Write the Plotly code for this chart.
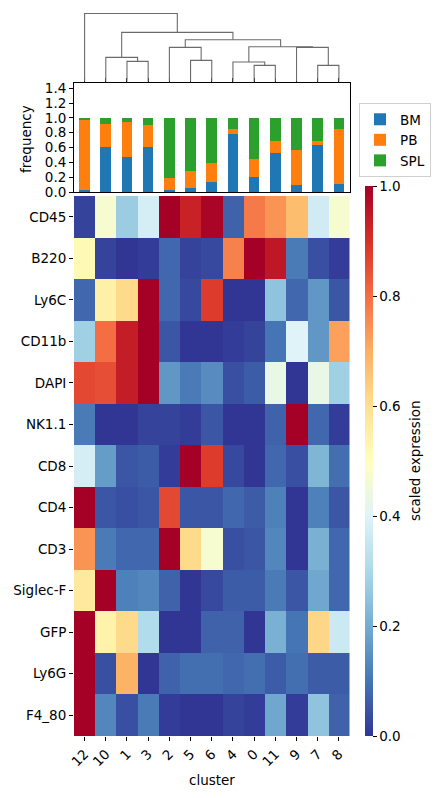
import plotly.graph_objects as go

# ---------------- data ----------------
clusters = ["12", "10", "1", "3", "2", "5", "6", "4", "0", "11", "9", "7", "8"]
markers = ["CD45", "B220", "Ly6C", "CD11b", "DAPI", "NK1.1", "CD8", "CD4",
           "CD3", "Siglec-F", "GFP", "Ly6G", "F4_80"]

# tissue frequency per cluster
freq_bm = [0.03, 0.61, 0.47, 0.61, 0.03, 0.055, 0.135, 0.785, 0.20, 0.527, 0.095, 0.635, 0.11]
freq_pb = [0.94, 0.31, 0.48, 0.295, 0.16, 0.23, 0.255, 0.065, 0.245, 0.163, 0.475, 0.055, 0.74]
freq_spl = [0.03, 0.08, 0.05, 0.095, 0.81, 0.715, 0.61, 0.15, 0.555, 0.31, 0.43, 0.31, 0.15]

# scaled expression per marker (columns follow `clusters`)
cd45 = [0.02, 0.47, 0.27, 0.38, 1.00, 0.93, 0.99, 0.07, 0.78, 0.74, 0.67, 0.37, 0.47]
b220 = [0.52, 0.02, 0.00, 0.01, 0.08, 0.02, 0.03, 0.77, 1.00, 0.95, 0.11, 0.04, 0.01]
ly6c = [0.08, 0.55, 0.61, 1.00, 0.08, 0.03, 0.88, 0.00, 0.00, 0.25, 0.08, 0.16, 0.05]
cd11b = [0.28, 0.80, 0.94, 1.00, 0.05, 0.00, 0.00, 0.01, 0.02, 0.10, 0.40, 0.16, 0.72]
dapi = [0.86, 0.85, 0.94, 1.00, 0.16, 0.11, 0.14, 0.04, 0.06, 0.43, 0.00, 0.43, 0.28]
nk11 = [0.11, 0.00, 0.00, 0.02, 0.02, 0.01, 0.05, 0.00, 0.00, 0.07, 1.00, 0.08, 0.01]
cd8 = [0.38, 0.17, 0.05, 0.06, 0.01, 1.00, 0.88, 0.03, 0.00, 0.08, 0.04, 0.22, 0.09]
cd4 = [1.00, 0.05, 0.04, 0.05, 0.86, 0.05, 0.05, 0.08, 0.06, 0.12, 0.00, 0.12, 0.05]
cd3 = [0.74, 0.11, 0.08, 0.08, 1.00, 0.61, 0.47, 0.04, 0.05, 0.13, 0.00, 0.21, 0.08]
siglecf = [0.57, 1.00, 0.12, 0.13, 0.07, 0.00, 0.03, 0.06, 0.06, 0.11, 0.05, 0.19, 0.08]
gfp = [1.00, 0.54, 0.61, 0.31, 0.00, 0.00, 0.07, 0.07, 0.00, 0.21, 0.10, 0.62, 0.36]
ly6g = [1.00, 0.04, 0.69, 0.00, 0.07, 0.09, 0.09, 0.08, 0.09, 0.06, 0.09, 0.06, 0.06]
f480 = [1.00, 0.13, 0.04, 0.11, 0.01, 0.00, 0.00, 0.02, 0.01, 0.19, 0.01, 0.25, 0.07]

# dendrogram merges: (left, right, height); str = leaf cluster, int = earlier merge index
linkage = [
    ("1", "3", 61),      # 0
    ("10", 0, 73),       # 1
    ("5", "6", 64),      # 2
    ("2", 2, 103),       # 3
    ("0", "11", 49),     # 4
    ("4", 4, 59),        # 5
    ("7", "8", 49),      # 6
    ("9", 6, 103),       # 7
    (5, 7, 105),         # 8
    (3, 8, 126),         # 9
    (1, 9, 148),         # 10
    ("12", 10, 205),     # 11
]

# ---------------- figure ----------------
W, H = 443, 798
FONT = "DejaVu Sans"
FS = 13.5
z = [cd45, b220, ly6c, cd11b, dapi, nk11, cd8, cd4, cd3, siglecf, gfp, ly6g, f480]
xs = list(range(len(clusters)))


def px_y(top, bottom):
    return [(H - bottom) / H, (H - top) / H]


xdom = [74 / W, 349.5 / W]

fig = go.Figure()

# dendrogram lines
node_pos = []
dx, dy = [], []
for left, right, h in linkage:
    pts = []
    for c in (left, right):
        if isinstance(c, str):
            pts.append((clusters.index(c), 0))
        else:
            pts.append(node_pos[c])
    (xl, hl), (xr, hr) = pts
    dx += [xl, xl, xr, xr, None]
    dy += [hl, h, h, hr, None]
    node_pos.append(((xl + xr) / 2, h))

fig.add_trace(go.Scatter(x=dx, y=dy, mode="lines", line=dict(color="#6b6b6b", width=1.1),
                         xaxis="x3", yaxis="y3", showlegend=False, hoverinfo="skip"))

# stacked bars
for name, vals, col in [("BM", freq_bm, "#1f77b4"), ("PB", freq_pb, "#ff7f0e"),
                        ("SPL", freq_spl, "#2ca02c")]:
    fig.add_trace(go.Bar(x=xs, y=vals, name=name, marker=dict(color=col, line=dict(width=0)),
                         width=0.5, xaxis="x2", yaxis="y2"))

# heatmap
fig.add_trace(go.Heatmap(
    z=z, x=xs, y=markers, colorscale="RdYlBu_r", zmin=0, zmax=1,
    xaxis="x", yaxis="y", showscale=True,
    colorbar=dict(
        x=365 / W, xanchor="left", y=(H - 736) / H, yanchor="bottom",
        len=(736 - 186) / H, lenmode="fraction", thickness=8, outlinewidth=0,
        xpad=0, ypad=0,
        tickvals=[0, 0.2, 0.4, 0.6, 0.8, 1.0], ticktext=["0.0", "0.2", "0.4", "0.6", "0.8", "1.0"],
        ticks="outside", ticklen=4, tickcolor="black",
        tickfont=dict(family=FONT, size=FS, color="black"),
    ),
))

fig.add_annotation(text="scaled expression", x=415 / W, y=(H - 461) / H, xref="paper",
                   yref="paper", textangle=-90, showarrow=False, xanchor="center",
                   yanchor="middle", font=dict(family=FONT, size=FS, color="black"))
fig.add_annotation(text="frequency", x=36 / W, y=(H - 139) / H, xref="paper",
                   yref="paper", textangle=-90, showarrow=False, xanchor="right",
                   yanchor="middle", font=dict(family=FONT, size=FS, color="black"))
fig.add_annotation(text="cluster", x=(74 + 349.5) / 2 / W, y=(H - 780) / H, xref="paper",
                   yref="paper", showarrow=False, xanchor="center",
                   yanchor="middle", font=dict(family=FONT, size=FS, color="black"))

fig.update_layout(
    width=W, height=H, margin=dict(l=0, r=0, t=0, b=0, autoexpand=False),
    paper_bgcolor="white", plot_bgcolor="white",
    barmode="stack", bargap=0,
    font=dict(family=FONT, size=FS, color="black"),
    legend=dict(x=359 / W, y=(H - 103) / H, xanchor="left", yanchor="top",
                traceorder="normal",
                bordercolor="#d0d0d0", borderwidth=1, bgcolor="white",
                font=dict(family=FONT, size=FS, color="black"),
                itemwidth=30),
    xaxis=dict(domain=xdom, anchor="y", range=[-0.5, 12.5], tickvals=xs, ticktext=clusters,
               tickangle=-45, ticks="outside", ticklen=4, tickcolor="black",
               tickfont=dict(family=FONT, size=FS), automargin=False,
               showgrid=False, zeroline=False, showline=False),
    yaxis=dict(domain=px_y(196, 736), anchor="x", autorange="reversed", ticks="outside",
               ticklen=4, tickcolor="black", tickfont=dict(family=FONT, size=FS),
               automargin=False,
               showgrid=False, zeroline=False, showline=False),
    xaxis2=dict(domain=xdom, anchor="y2", range=[-0.5, 12.5], side="top", tickvals=xs,
                showticklabels=False, ticks="outside", ticklen=4, tickcolor="black",
                showline=True, mirror=True, linecolor="black", linewidth=1,
                automargin=False, showgrid=False, zeroline=False),
    yaxis2=dict(domain=px_y(83, 192), anchor="x2", range=[0, 1.47],
                tickvals=[0, 0.2, 0.4, 0.6, 0.8, 1.0, 1.2, 1.4],
                ticktext=["0.0", "0.2", "0.4", "0.6", "0.8", "1.0", "1.2", "1.4"],
                ticks="outside", ticklen=4, tickcolor="black",
                tickfont=dict(family=FONT, size=FS), automargin=False,
                showline=True, mirror=True, linecolor="black", linewidth=1,
                showgrid=False, zeroline=False),
    xaxis3=dict(domain=xdom, anchor="y3", range=[-0.5, 12.5], visible=False),
    yaxis3=dict(domain=px_y(13, 81.7), anchor="x3", range=[0, 206], visible=False),
)

fig.write_html("out.html")
